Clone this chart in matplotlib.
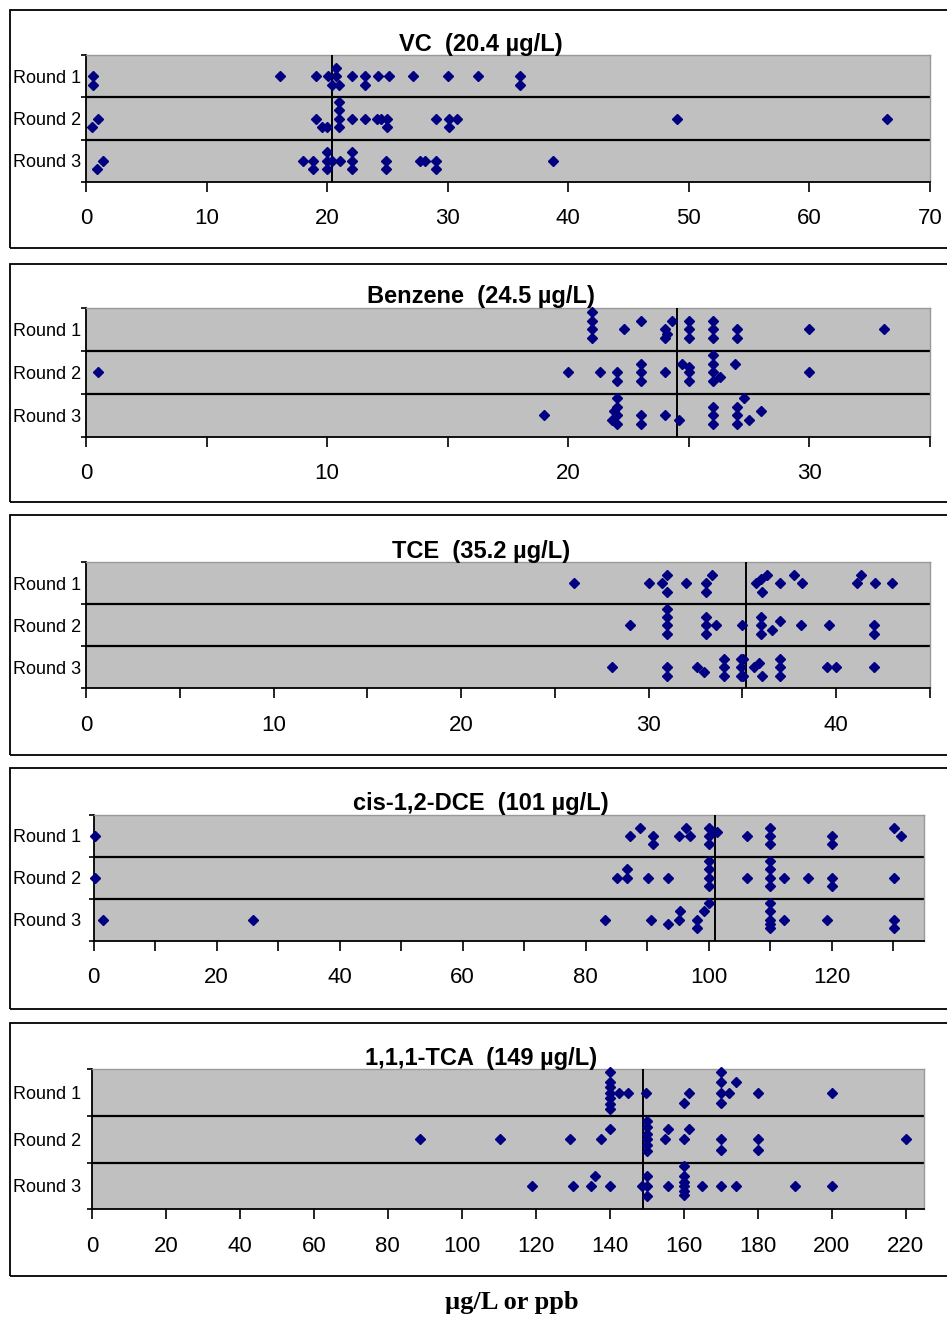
import matplotlib
matplotlib.use("Agg")
import matplotlib.pyplot as plt
from matplotlib.patches import Rectangle
from matplotlib.ticker import MultipleLocator, FixedLocator, NullFormatter

# ---- data: value and stacking level (0 = row centre, + = lower) ----
rounds = ["Round 1", "Round 2", "Round 3"]

vc_name, vc_ref = "VC", 20.4
vc_r1 = [0.55, 0.55, 16.1, 19.1, 20.1, 20.4, 20.7, 20.7, 21.0, 22.1, 23.1, 23.1, 24.2, 25.1, 27.1, 30.0, 32.5, 36.0, 36.0]
vc_r1_lvl = [0, 1, 0, 0, 0, 1, -1, 0, 1, 0, 0, 1, 0, 0, 0, 0, 0, 0, 1]
vc_r2 = [0.47, 0.97, 19.1, 19.6, 20.0, 21.0, 21.0, 21.0, 21.0, 22.1, 23.1, 24.1, 24.5, 25.0, 25.0, 29.0, 30.1, 30.1, 30.8, 49.0, 66.4]
vc_r2_lvl = [1, 0, 0, 1, 1, -2, -1, 0, 1, 0, 0, 0, 0, 0, 1, 0, 0, 1, 0, 0, 0]
vc_r3 = [0.94, 1.4, 18.0, 18.85, 18.85, 20.0, 20.0, 20.0, 20.4, 21.1, 22.1, 22.1, 22.1, 24.9, 24.9, 27.7, 28.1, 29.0, 29.0, 38.7]
vc_r3_lvl = [1, 0, 0, 0, 1, -1, 0, 1, 0, 0, -1, 0, 1, 0, 1, 0, 0, 0, 1, 0]

bz_name, bz_ref = "Benzene", 24.5
bz_r1 = [21, 21, 21, 21, 22.3, 23, 24.0, 24.0, 24.1, 24.3, 25, 25, 25, 26, 26, 26, 27, 27, 30, 33.1]
bz_r1_lvl = [-2, -1, 0, 1, 0, -1, 0, 1, 0.5, -1, -1, 0, 1, -1, 0, 1, 0, 1, 0, 0]
bz_r2 = [0.48, 20, 21.3, 22, 22, 23, 23, 23, 24.0, 24.7, 25, 25, 25, 26, 26, 26, 26, 26.3, 26.9, 30]
bz_r2_lvl = [0, 0, 0, 0, 1, -1, 0, 1, 0, -1, -0.6, 0, 1, -2, -1, 0, 1, 0.5, -1, 0]
bz_r3 = [19, 21.8, 21.9, 22, 22, 22, 22, 23, 23, 24, 24.6, 26, 26, 26, 27, 27, 27, 27.3, 27.5, 28.0]
bz_r3_lvl = [0, 0.5, -0.5, -2, -1, 0, 1, 0, 1, 0, 0.5, -1, 0, 1, -1, 0, 1, -2, 0.5, -0.5]

tce_name, tce_ref = "TCE", 35.2
tce_r1 = [26.0, 30.0, 30.7, 31.0, 31.0, 32.0, 33.05, 33.05, 33.4, 35.7, 36.0, 36.05, 36.3, 37.0, 37.75, 38.15, 41.1, 41.3, 42.06, 43.0]
tce_r1_lvl = [0, 0, 0, -1, 1, 0, 0, 1, -1, 0, -0.5, 1, -1, 0, -1, 0, 0, -1, 0, 0]
tce_r2 = [29.0, 31, 31, 31, 31, 33.05, 33.05, 33.05, 33.6, 35.0, 36.0, 36.0, 36.0, 36.55, 37.0, 38.1, 39.6, 42, 42]
tce_r2_lvl = [0, -2, -1, 0, 1, -1, 0, 1, 0, 0, -1, 0, 1, 0.5, -0.5, 0, 0, 0, 1]
tce_r3 = [28.05, 31, 31, 32.6, 32.95, 34, 34, 34, 34.9, 34.9, 34.9, 35.05, 35.05, 35.6, 35.9, 36.05, 37, 37, 37, 39.5, 40.0, 42.0]
tce_r3_lvl = [0, 0, 1, 0, 0.5, -1, 0, 1, -1, 0, 1, -1, 1, 0, -0.5, 1, -1, 0, 1, 0, 0, 0]

dce_name, dce_ref = "cis-1,2-DCE", 101
dce_r1 = [0.2, 87.2, 88.8, 91.0, 91.0, 95.2, 96.3, 97.0, 100.1, 100.1, 100.1, 100.7, 101.4, 106.2, 110, 110, 110, 120, 120, 130.2, 131.2]
dce_r1_lvl = [0, 0, -1, 0, 1, 0, -1, 0, -1, 0, 1, -0.5, -0.5, 0, -1, 0, 1, 0, 1, -1, 0]
dce_r2 = [0.2, 85.1, 86.8, 86.8, 90.1, 93.4, 100.1, 100.1, 100.1, 100.1, 106.2, 110, 110, 110, 110, 112.2, 116.2, 120, 120, 130.2]
dce_r2_lvl = [0, 0, -1, 0, 0, 0, -2, -1, 0, 1, 0, -2, -1, 0, 1, 0, 0, 0, 1, 0]
dce_r3 = [1.5, 26, 83.2, 90.6, 93.4, 95.1, 95.4, 98.1, 98.1, 99.2, 100.1, 110, 110, 110, 110, 110, 112.2, 119.3, 130.2, 130.2]
dce_r3_lvl = [0, 0, 0, 0, 0.5, 0, -1, 0, 1, -1, -2, -2, -1, 0, 0.5, 1, 0, 0, 0, 1]

tca_name, tca_ref = "1,1,1-TCA", 149
tca_r1 = [140, 140, 140, 140, 140, 140, 140, 142.5, 144.9, 149.9, 160, 161.4, 170, 170, 170, 170, 172.2, 174.2, 180, 200]
tca_r1_lvl = [-2.2, -1.1, -0.6, 0, 0.6, 1.2, 1.8, 0, 0, 0, 1.1, 0, -2.2, -1.1, 0, 1.1, 0, -1.1, 0, 0]
tca_r2 = [88.8, 110.3, 129.4, 137.7, 140, 150, 150, 150, 150, 150, 150, 154.9, 155.8, 160, 161.4, 170, 170, 180, 180, 220]
tca_r2_lvl = [0, 0, 0, 0, -1.1, -2, -1.3, -0.6, 0, 0.6, 1.2, 0, -1.1, 0, -1.1, 0, 1.1, 0, 1.1, 0]
tca_r3 = [119.1, 130, 135, 135.9, 140, 148.7, 150, 150, 150, 155.8, 160, 160, 160, 160, 160, 160, 165, 170, 174.2, 190, 200]
tca_r3_lvl = [0, 0, 0, -1.1, 0, 0, -1.1, 0, 1.1, 0, -2.1, -1.1, -0.4, 0, 0.5, 1, 0, 0, 0, 0, 0]

# ---- layout (pixels) ----
W, H = 947, 1317
fig = plt.figure(figsize=(W / 100, H / 100), dpi=100)
plt.rcParams["font.family"] = ["Liberation Sans", "DejaVu Sans"]

panels = [
    # name, ref, data, box (top, bottom), plot (l, t, r, b), xmax, tick step, label step
    (vc_name, vc_ref, [(vc_r1, vc_r1_lvl), (vc_r2, vc_r2_lvl), (vc_r3, vc_r3_lvl)],
     (10, 248), (86, 55, 930, 182), 70, 10, 10),
    (bz_name, bz_ref, [(bz_r1, bz_r1_lvl), (bz_r2, bz_r2_lvl), (bz_r3, bz_r3_lvl)],
     (264, 501.5), (86, 307.7, 930, 436.7), 35, 5, 10),
    (tce_name, tce_ref, [(tce_r1, tce_r1_lvl), (tce_r2, tce_r2_lvl), (tce_r3, tce_r3_lvl)],
     (515.5, 755), (86, 562.3, 930, 688.3), 45, 5, 10),
    (dce_name, dce_ref, [(dce_r1, dce_r1_lvl), (dce_r2, dce_r2_lvl), (dce_r3, dce_r3_lvl)],
     (768, 1008.5), (93.5, 815, 924, 940.7), 135, 10, 20),
    (tca_name, tca_ref, [(tca_r1, tca_r1_lvl), (tca_r2, tca_r2_lvl), (tca_r3, tca_r3_lvl)],
     (1022.5, 1276), (92, 1069.3, 924, 1209.3), 225, 20, 20),
]

STEP = 0.2  # vertical offset of one stacking level, in row units

for name, ref, rows, box, plot, xmax, tstep, lstep in panels:
    bt, bb = box
    fig.patches.append(Rectangle((10 / W, 1 - bb / H), 960 / W, (bb - bt) / H,
                                 transform=fig.transFigure, fill=False,
                                 edgecolor="black", linewidth=1.3))
    l, t, r, b = plot
    ax = fig.add_axes([l / W, 1 - b / H, (r - l) / W, (b - t) / H])
    ax.set_facecolor("#c0c0c0")
    ax.set_xlim(0, xmax)
    ax.set_ylim(0, 3)

    for i, (vals, lvls) in enumerate(rows):
        centre = 2.5 - i
        ys = [centre - lv * STEP for lv in lvls]
        ax.plot(vals, ys, linestyle="none", marker="D", markersize=5.2,
                color="#000080", zorder=4, clip_on=False)

    ax.axhline(1, color="black", linewidth=1.6, zorder=2)
    ax.axhline(2, color="black", linewidth=1.6, zorder=2)
    ax.axvline(ref, color="black", linewidth=1.4, zorder=3)

    for side in ("top", "right"):
        ax.spines[side].set_color("#999999")
        ax.spines[side].set_linewidth(1)
    for side in ("left", "bottom"):
        ax.spines[side].set_color("black")
        ax.spines[side].set_linewidth(1.3)

    ax.xaxis.set_major_locator(MultipleLocator(lstep))
    ax.xaxis.set_minor_locator(MultipleLocator(tstep))
    ax.xaxis.set_minor_formatter(NullFormatter())
    ax.tick_params(axis="x", which="both", direction="out", length=7, width=1.2,
                   color="black", labelsize=16, pad=12)

    ax.yaxis.set_major_locator(FixedLocator([0, 1, 2, 3]))
    ax.yaxis.set_major_formatter(NullFormatter())
    ax.yaxis.set_minor_locator(FixedLocator([2.5, 1.5, 0.5]))
    ax.set_yticklabels(rounds, minor=True)
    ax.tick_params(axis="y", which="major", direction="out", length=3.5, width=1.2)
    ax.tick_params(axis="y", which="minor", length=0, labelsize=13,
                   pad=(l - 81) * 0.72)

    fig.text(481 / W, 1 - (t - 11) / H, f"{name}  ({ref} µg/L)", ha="center",
             va="center", fontsize=17, fontweight="bold")

fig.text(512 / W, 1 - 1302 / H, "µg/L or ppb", ha="center", va="center",
         fontsize=19, fontweight="bold", family=["Liberation Serif", "DejaVu Serif"])

fig.savefig("out.png", dpi=100)
